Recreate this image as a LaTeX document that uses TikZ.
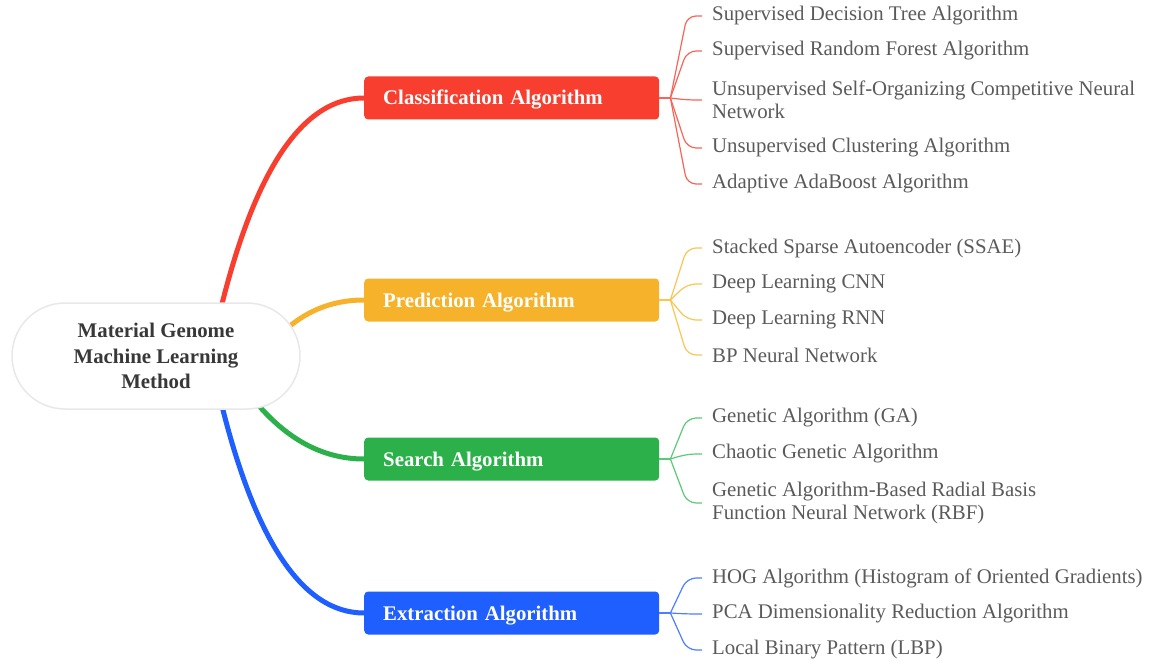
\documentclass[tikz,border=0pt]{standalone}
\usepackage{fontspec}
\setmainfont{Liberation Serif}
\usetikzlibrary{calc}
\pgfdeclarelayer{bg}
\pgfsetlayers{bg,main}
\definecolor{cred}{HTML}{F73E2F}
\definecolor{cyel}{HTML}{F7B22B}
\definecolor{cgrn}{HTML}{2BB04A}
\definecolor{cblu}{HTML}{1F5EFF}
\definecolor{lred}{HTML}{F76458}
\definecolor{lyel}{HTML}{F9C553}
\definecolor{lgrn}{HTML}{5CC878}
\definecolor{lblu}{HTML}{4C7EFF}
\definecolor{leafgray}{HTML}{5A5A5A}
\definecolor{roottext}{HTML}{383838}
\begin{document}
\begin{tikzpicture}[x=1pt,y=-1pt,
  branch/.style={fill=#1, rounded corners=4pt, minimum height=43pt, text=white,
    font=\fontsize{20.8}{24}\selectfont\bfseries, anchor=west, text width=257pt,
    text height=18.5pt, text depth=4.5pt,
    inner xsep=19pt, inner ysep=0pt, align=left},
  leaf/.style={anchor=west, inner xsep=10pt, inner ysep=0pt, text=leafgray,
    font=\fontsize{20.8}{23.5}\selectfont, align=left},
  trunk/.style={draw=#1, line width=5pt},
  twig/.style={draw=#1, line width=1.2pt, rounded corners=9pt},
  stub/.style={draw=#1, line width=1.2pt}]
\useasboundingbox (0,0) rectangle (1152,666);

% root
\node[draw=gray!18, line width=1.5pt, fill=white, rounded corners=53pt,
  minimum width=288pt, minimum height=106pt, align=center, text=roottext,
  font=\fontsize{20.8}{25.5}\selectfont\bfseries] (root) at (156,356)
  {Material Genome\\Machine Learning\\Method};

% branches
\node[branch=cred] (cls) at (364,98) {Classification Algorithm};
\node[branch=cyel] (pre) at (364,300) {Prediction Algorithm};
\node[branch=cgrn] (sea) at (364,459) {Search Algorithm};
\node[branch=cblu] (ext) at (364,613) {Extraction Algorithm};

% junctions
\coordinate (j1) at ($(cls.east)+(11,0)$);
\coordinate (j2) at ($(pre.east)+(11,0)$);
\coordinate (j3) at ($(sea.east)+(11,0)$);
\coordinate (j4) at ($(ext.east)+(11,0)$);

% trunk start points (behind root)
\coordinate (s1) at (220,312);
\coordinate (s2) at (280,335);
\coordinate (s3) at (250,395);
\coordinate (s4) at (220,398);

% leaves
\node[leaf] (a1) at (702,16) {Supervised Decision Tree Algorithm};
\node[leaf] (a2) at (702,51) {Supervised Random Forest Algorithm};
\node[leaf] (a3) at (702,100) {Unsupervised Self-Organizing Competitive Neural\\Network};
\node[leaf] (a4) at (702,148) {Unsupervised Clustering Algorithm};
\node[leaf] (a5) at (702,184) {Adaptive AdaBoost Algorithm};

\node[leaf] (b1) at (702,248) {Stacked Sparse Autoencoder (SSAE)};
\node[leaf] (b2) at (702,284) {Deep Learning CNN};
\node[leaf] (b3) at (702,320) {Deep Learning RNN};
\node[leaf] (b4) at (702,355) {BP Neural Network};

\node[leaf] (c1) at (702,418) {Genetic Algorithm (GA)};
\node[leaf] (c2) at (702,454) {Chaotic Genetic Algorithm};
\node[leaf] (c3) at (702,503) {Genetic Algorithm-Based Radial Basis\\Function Neural Network (RBF)};

\node[leaf] (d1) at (702,578) {HOG Algorithm (Histogram of Oriented Gradients)};
\node[leaf] (d2) at (702,614) {PCA Dimensionality Reduction Algorithm};
\node[leaf] (d3) at (702,650) {Local Binary Pattern (LBP)};

\begin{pgfonlayer}{bg}
  \draw[trunk=cred] (s1) .. controls (254.7,169.3) and (302.7,98) .. (cls.west);
  \draw[trunk=cyel] (s2) .. controls (303.3,311.7) and (331.3,300) .. (pre.west);
  \draw[trunk=cgrn] (s3) .. controls (283.3,437.7) and (321.3,459) .. (sea.west);
  \draw[trunk=cblu] (s4) .. controls (254.7,541.3) and (302.7,613) .. (ext.west);
\end{pgfonlayer}

\draw[stub=lred] (cls.east) -- (j1);
\foreach \l in {a1,a2,a3,a4,a5}
  \draw[twig=lred] (j1) -- ($(\l.west)+(-15,0)$) -- (\l.west);
\draw[stub=lyel] (pre.east) -- (j2);
\foreach \l in {b1,b2,b3,b4}
  \draw[twig=lyel] (j2) -- ($(\l.west)+(-15,0)$) -- (\l.west);
\draw[stub=lgrn] (sea.east) -- (j3);
\foreach \l in {c1,c2,c3}
  \draw[twig=lgrn] (j3) -- ($(\l.west)+(-15,0)$) -- (\l.west);
\draw[stub=lblu] (ext.east) -- (j4);
\foreach \l in {d1,d2,d3}
  \draw[twig=lblu] (j4) -- ($(\l.west)+(-15,0)$) -- (\l.west);
\end{tikzpicture}
\end{document}
